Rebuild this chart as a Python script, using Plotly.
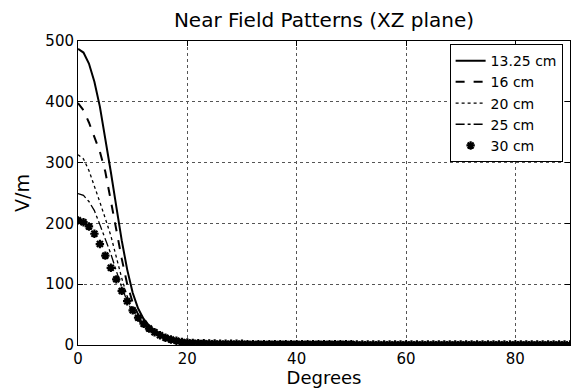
import plotly.graph_objects as go

degrees = list(range(91))

# Field values (V/m), one value per degree 0..90
v_1325 = [487, 481, 463, 433, 392, 340, 285, 228, 172, 124, 86, 60, 43, 32, 24, 19, 15, 12, 9, 6, 4,
          3.5, 3, 3, 2.5, 2.5, 2, 2, 2, 2, 2, 1.5, 1.5, 1.5, 1.5, 1.5, 1.5, 1.5, 1.5, 1.5, 1.5,
          1.5, 1.5, 1.5, 1.5, 1.5, 1.5, 1.5, 1.5, 1.5, 1.5, 1, 1, 1, 1, 1, 1, 1, 1, 1, 1,
          1, 1, 1, 1, 1, 1, 1, 1, 1, 1, 1, 1, 1, 1, 1, 1, 1, 1, 1, 1,
          1, 1, 1, 1, 1, 1, 1, 1, 1, 1]
v_16 = [398, 386, 366, 343, 318, 285, 240, 190, 142, 100, 70, 50, 37, 28, 21, 16, 13, 10, 7, 5, 4,
        3.5, 3, 3, 2.5, 2.5, 2, 2, 2, 2, 2, 1.5, 1.5, 1.5, 1.5, 1.5, 1.5, 1.5, 1.5, 1.5, 1.5,
        1.5, 1.5, 1.5, 1.5, 1.5, 1.5, 1.5, 1.5, 1.5, 1.5, 1, 1, 1, 1, 1, 1, 1, 1, 1, 1,
        1, 1, 1, 1, 1, 1, 1, 1, 1, 1, 1, 1, 1, 1, 1, 1, 1, 1, 1, 1,
        1, 1, 1, 1, 1, 1, 1, 1, 1, 1]
v_20 = [313, 306, 287, 262, 235, 208, 180, 145, 110, 80, 58, 43, 33, 25, 19, 15, 12, 9, 7, 5, 4,
        3.5, 3, 3, 2.5, 2.5, 2, 2, 2, 2, 2, 1.5, 1.5, 1.5, 1.5, 1.5, 1.5, 1.5, 1.5, 1.5, 1.5,
        1.5, 1.5, 1.5, 1.5, 1.5, 1.5, 1.5, 1.5, 1.5, 1.5, 1, 1, 1, 1, 1, 1, 1, 1, 1, 1,
        1, 1, 1, 1, 1, 1, 1, 1, 1, 1, 1, 1, 1, 1, 1, 1, 1, 1, 1, 1,
        1, 1, 1, 1, 1, 1, 1, 1, 1, 1]
v_25 = [249, 246, 236, 221, 198, 175, 150, 122, 95, 72, 54, 41, 31, 24, 18, 14, 11, 8, 6, 5, 4,
        3.5, 3, 3, 2.5, 2.5, 2, 2, 2, 2, 2, 1.5, 1.5, 1.5, 1.5, 1.5, 1.5, 1.5, 1.5, 1.5, 1.5,
        1.5, 1.5, 1.5, 1.5, 1.5, 1.5, 1.5, 1.5, 1.5, 1.5, 1, 1, 1, 1, 1, 1, 1, 1, 1, 1,
        1, 1, 1, 1, 1, 1, 1, 1, 1, 1, 1, 1, 1, 1, 1, 1, 1, 1, 1, 1,
        1, 1, 1, 1, 1, 1, 1, 1, 1, 1]
v_30 = [205, 202, 195, 183, 166, 147, 127, 108, 89, 72, 57, 45, 35, 27, 21, 16, 12, 9, 7, 5, 4,
        3.5, 3, 3, 2.5, 2.5, 2, 2, 2, 2, 2, 1.5, 1.5, 1.5, 1.5, 1.5, 1.5, 1.5, 1.5, 1.5, 1.5,
        1.5, 1.5, 1.5, 1.5, 1.5, 1.5, 1.5, 1.5, 1.5, 1.5, 1, 1, 1, 1, 1, 1, 1, 1, 1, 1,
        1, 1, 1, 1, 1, 1, 1, 1, 1, 1, 1, 1, 1, 1, 1, 1, 1, 1, 1, 1,
        1, 1, 1, 1, 1, 1, 1, 1, 1, 1]

x_ticks = [0, 20, 40, 60, 80]
y_ticks = [0, 100, 200, 300, 400, 500]

FONT = "DejaVu Sans, Arial, sans-serif"

fig = go.Figure()
fig.add_trace(go.Scatter(x=degrees, y=v_1325, mode="lines", name="13.25 cm",
                         line=dict(color="black", width=2, dash="solid")))
fig.add_trace(go.Scatter(x=degrees, y=v_16, mode="lines", name="16 cm",
                         line=dict(color="black", width=2, dash="dash")))
fig.add_trace(go.Scatter(x=degrees, y=v_20, mode="lines", name="20 cm",
                         line=dict(color="black", width=1.3, dash="dot")))
fig.add_trace(go.Scatter(x=degrees, y=v_25, mode="lines", name="25 cm",
                         line=dict(color="black", width=1.3, dash="dashdot")))
fig.add_trace(go.Scatter(x=degrees, y=v_30, mode="markers", name="30 cm",
                         marker=dict(symbol="asterisk-open", size=7, color="black",
                                     line=dict(color="black", width=2.2))))

axis_common = dict(showline=True, linecolor="black", linewidth=1, mirror="ticks",
                   ticks="inside", ticklen=5, tickcolor="black",
                   showgrid=True, gridcolor="#555555", griddash="dot", gridwidth=1,
                   zeroline=False, tickfont=dict(family=FONT, size=15, color="black"))

fig.update_xaxes(range=[0, 90], tickvals=x_ticks,
                 title=dict(text="Degrees", font=dict(family=FONT, size=18, color="black"), standoff=3),
                 **axis_common)
fig.update_yaxes(range=[0, 500], tickvals=y_ticks,
                 title=dict(text="V/m", font=dict(family=FONT, size=19, color="black"), standoff=10),
                 **axis_common)

fig.update_layout(
    width=571, height=388,
    margin=dict(l=78, r=1, t=41, b=43),
    paper_bgcolor="white", plot_bgcolor="white",
    title=dict(text="Near Field Patterns (XZ plane)", xref="paper", x=0.5, xanchor="center",
               y=0.948, yanchor="middle",
               font=dict(family=FONT, size=20, color="black")),
    legend=dict(x=0.985, y=0.99, xanchor="right", yanchor="top",
                bgcolor="white", bordercolor="black", borderwidth=1,
                font=dict(family=FONT, size=14, color="black"),
                tracegroupgap=0),
    showlegend=True,
)

fig.write_html("out.html")
